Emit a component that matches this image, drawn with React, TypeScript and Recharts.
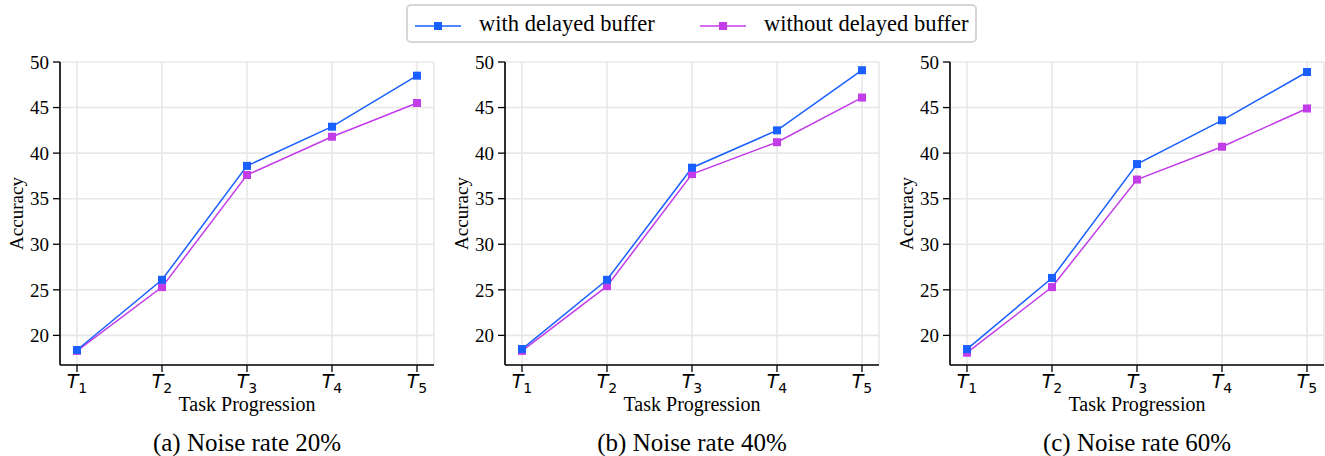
import { LineChart, Line, XAxis, YAxis, CartesianGrid } from 'recharts'

const tasks = [1, 2, 3, 4, 5]
const yTicks = [20, 25, 30, 35, 40, 45, 50]

const titles = ['(a) Noise rate 20%', '(b) Noise rate 40%', '(c) Noise rate 60%']

// accuracy per task, one array per panel and series
const withBuffer20 = [18.4, 26.1, 38.6, 42.9, 48.5]
const withoutBuffer20 = [18.3, 25.3, 37.6, 41.8, 45.5]
const withBuffer40 = [18.5, 26.1, 38.4, 42.5, 49.1]
const withoutBuffer40 = [18.3, 25.4, 37.7, 41.2, 46.1]
const withBuffer60 = [18.5, 26.3, 38.8, 43.6, 48.9]
const withoutBuffer60 = [18.1, 25.3, 37.1, 40.7, 44.9]

const BLUE = '#1a5fff'
const PURPLE = '#c23ce8'
const SERIF = '"Liberation Serif", "Times New Roman", serif'

const panels = [
  { title: titles[0], a: withBuffer20, b: withoutBuffer20, left: 0 },
  { title: titles[1], a: withBuffer40, b: withoutBuffer40, left: 445 },
  { title: titles[2], a: withBuffer60, b: withoutBuffer60, left: 890 },
]

const square = (color: string) => (props: any) => {
  const { cx, cy, index } = props
  return <rect key={index} x={cx - 4} y={cy - 4} width={8} height={8} fill={color} />
}

const TaskTick = (props: any) => {
  const { x, y, payload } = props
  return (
    <text x={x} y={y + 14} textAnchor="middle" fill="#000" fontFamily='"DejaVu Sans", sans-serif' fontSize={19}>
      <tspan fontStyle="italic">T</tspan>
      <tspan dy={5} fontSize={14}>{payload.value}</tspan>
    </text>
  )
}

function Panel({ a, b, left }: { a: number[]; b: number[]; left: number }) {
  const data = tasks.map((t, i) => ({ t, with: a[i], without: b[i] }))
  const w = left === 890 ? 435 : 438
  return (
    <div style={{ position: 'absolute', left, top: 0 }}>
      <LineChart width={w} height={456} data={data} margin={{ top: 62, right: w - 434, bottom: 46, left: 0 }}>
        <CartesianGrid stroke="#e8e8e8" strokeWidth={1.6} />
        <XAxis
          dataKey="t"
          type="number"
          domain={[0.8, 5.2]}
          ticks={tasks}
          allowDataOverflow
          height={45}
          tick={<TaskTick />}
          tickSize={7}
          axisLine={{ stroke: '#000', strokeWidth: 1.6 }}
          tickLine={{ stroke: '#000', strokeWidth: 1.3 }}
          label={{ value: 'Task Progression', position: 'insideBottom', offset: -1, fill: '#000', fontSize: 20, fontFamily: SERIF }}
        />
        <YAxis
          type="number"
          domain={[16.75, 50]}
          ticks={yTicks}
          allowDataOverflow
          width={60}
          tickSize={7}
          tickMargin={4}
          tick={{ fill: '#000', fontSize: 19, fontFamily: SERIF }}
          axisLine={{ stroke: '#000', strokeWidth: 1.6 }}
          tickLine={{ stroke: '#000', strokeWidth: 1.3 }}
          label={{ value: 'Accuracy', angle: -90, position: 'insideLeft', offset: 16, fill: '#000', fontSize: 19, fontFamily: SERIF, style: { textAnchor: 'middle' } }}
        />
        <Line type="linear" dataKey="without" stroke={PURPLE} strokeWidth={1.5} dot={square(PURPLE)} activeDot={false} isAnimationActive={false} />
        <Line type="linear" dataKey="with" stroke={BLUE} strokeWidth={1.5} dot={square(BLUE)} activeDot={false} isAnimationActive={false} />
      </LineChart>
    </div>
  )
}

function LegendItem({ color, label, x }: { color: string; label: string; x: number }) {
  return (
    <>
      <svg style={{ position: 'absolute', left: x, top: 13 }} width={46} height={14}>
        <line x1={0} y1={7} x2={46} y2={7} stroke={color} strokeWidth={1.5} />
        <rect x={19} y={3} width={8} height={8} fill={color} />
      </svg>
      <div style={{ position: 'absolute', left: x + 64, top: 0, lineHeight: '36px', fontSize: 22.5, whiteSpace: 'nowrap' }}>{label}</div>
    </>
  )
}

export default function App() {
  return (
    <div style={{ position: 'absolute', left: 0, top: 0, width: 1325, height: 456, overflow: 'hidden', background: '#fff', fontFamily: SERIF, color: '#000' }}>
      {panels.map(p => (
        <Panel key={p.title} a={p.a} b={p.b} left={p.left} />
      ))}
      {panels.map(p => (
        <div
          key={'t' + p.title}
          style={{ position: 'absolute', left: p.left + 60, width: 374, top: 429, textAlign: 'center', fontSize: 25, lineHeight: 'normal', whiteSpace: 'nowrap' }}
        >
          {p.title}
        </div>
      ))}
      <div
        style={{ position: 'absolute', left: 406, top: 4, width: 571, height: 39, boxSizing: 'border-box', border: '2px solid #d6d6d6', borderRadius: 5, background: '#fff' }}
      >
        <LegendItem color={BLUE} label="with delayed buffer" x={7} />
        <LegendItem color={PURPLE} label="without delayed buffer" x={292} />
      </div>
    </div>
  )
}
